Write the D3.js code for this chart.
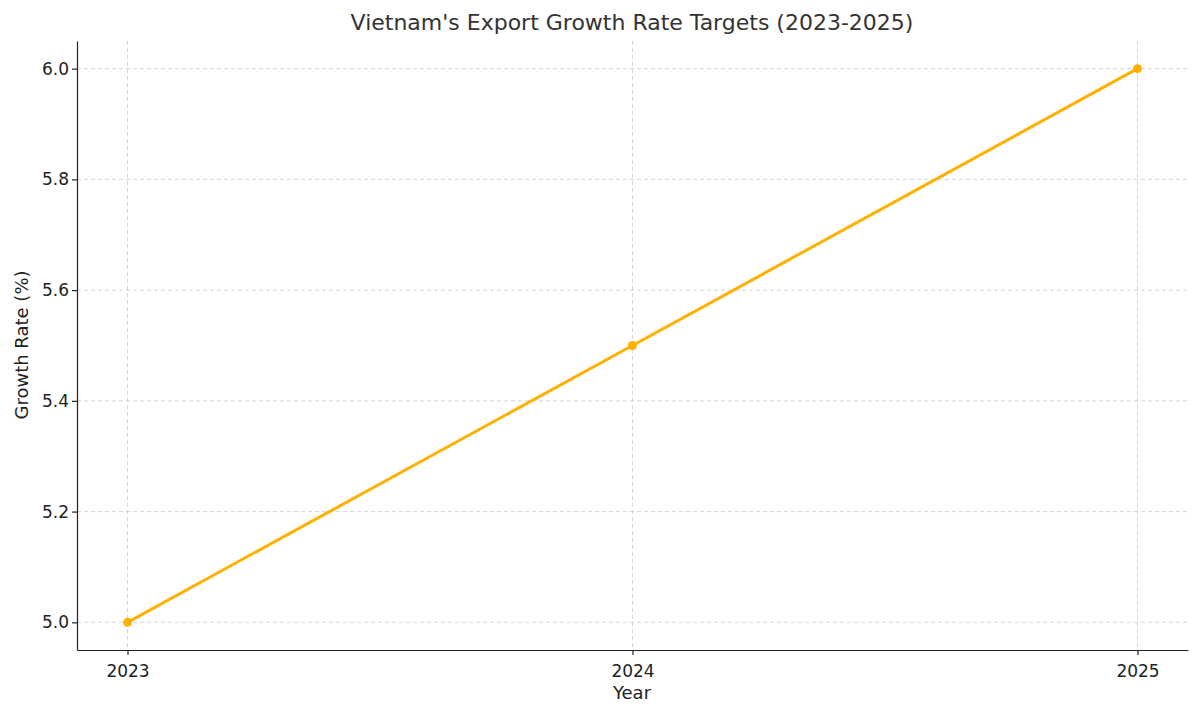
<!DOCTYPE html>
<html><head><meta charset="utf-8">
<script src="https://cdn.jsdelivr.net/npm/d3@7"></script>
<style>body{margin:0;background:#fff}text{font-family:"DejaVu Sans",sans-serif}</style>
</head><body><svg id="c" width="1200" height="715"></svg>
<script>
const years=[2023,2024,2025];
const rates=[5.0,5.5,6.0];
const yTicks=[5.0,5.2,5.4,5.6,5.8,6.0];
const svg=d3.select("#c");
const L=77,R=1188,T=41,B=650;
const x=d3.scaleLinear().domain([2022.9,2025.1]).range([L,R]);
const y=d3.scaleLinear().domain([4.95,6.05]).range([B,T]);
const g=svg.append("g");
years.forEach(v=>g.append("line").attr("x1",x(v)).attr("x2",x(v)).attr("y1",T).attr("y2",B).attr("stroke","#ccc").attr("stroke-dasharray","4,3").attr("stroke-width",0.8));
yTicks.forEach(v=>g.append("line").attr("x1",L).attr("x2",R).attr("y1",y(v)).attr("y2",y(v)).attr("stroke","#ccc").attr("stroke-dasharray","4,3").attr("stroke-width",0.8));
const xa=svg.append("g").attr("transform",`translate(0,${B})`).call(d3.axisBottom(x).tickValues(years).tickFormat(d3.format("d")).tickSize(5).tickSizeOuter(0));
const ya=svg.append("g").attr("transform",`translate(${L},0)`).call(d3.axisLeft(y).tickValues(yTicks).tickFormat(d3.format(".1f")).tickSize(5).tickSizeOuter(0));
[xa,ya].forEach(a=>{a.selectAll("text").attr("font-size",17).attr("fill","#222");a.selectAll("line,path").attr("stroke","#222").attr("stroke-width",1.2);});
xa.selectAll("text").attr("dy","1.1em");
const pts=years.map((v,i)=>[v,rates[i]]);
svg.append("path").datum(pts).attr("fill","none").attr("stroke","#FFB000").attr("stroke-width",3).attr("d",d3.line().x(d=>x(d[0])).y(d=>y(d[1])));
svg.selectAll(".p").data(pts).enter().append("circle").attr("cx",d=>x(d[0])).attr("cy",d=>y(d[1])).attr("r",4.5).attr("fill","#FFB000");
svg.append("text").attr("x",632).attr("y",30).attr("text-anchor","middle").attr("font-size",22).attr("fill","#333").text("Vietnam's Export Growth Rate Targets (2023-2025)");
svg.append("text").attr("x",632).attr("y",699).attr("text-anchor","middle").attr("font-size",18).attr("fill","#222").text("Year");
svg.append("text").attr("transform","translate(28,345) rotate(-90)").attr("text-anchor","middle").attr("font-size",18).attr("fill","#222").text("Growth Rate (%)");
</script></body></html>
